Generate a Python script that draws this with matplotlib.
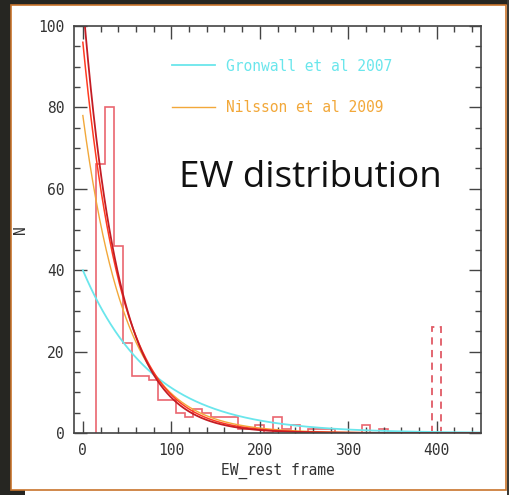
import matplotlib
matplotlib.use("Agg")
import matplotlib.pyplot as plt
import numpy as np
from matplotlib.patches import Rectangle
from matplotlib.ticker import MultipleLocator

# histogram of rest-frame EW, 10 A bins starting at 15
bin_edges = np.arange(15, 355, 10)
counts = [66, 80, 46, 22, 14, 14, 13, 8, 8, 5, 4, 6, 5, 4, 4, 4, 1, 1, 2, 0,
          4, 1, 2, 0, 1, 1, 1, 0, 0, 0, 2, 0, 1]
# objects piled up at the upper limit
limit_edges = [395, 405]
limit_counts = [26]

# exponential fits N0 * exp(-EW / w)
fit_gronwall = (40.0, 78.0)
fit_nilsson = (78.0, 48.0)
fit_ours = (106.0, 40.0)
fit_ours_alt = (96.0, 43.0)

fig = plt.figure(figsize=(5.10, 4.95), dpi=100)
fig.patch.set_facecolor("white")

# slide background strips
W, H = 510.0, 495.0
def strip(x0, y0, w, h, **kw):
    fig.patches.append(Rectangle((x0 / W, y0 / H), w / W, h / H,
                                 transform=fig.transFigure, **kw))

strip(0, 0, 11, 495, facecolor="#262622", edgecolor="none", zorder=-3)
strip(0, 490, 510, 5, facecolor="#262622", edgecolor="none", zorder=-3)
strip(0, 0, 25, 5, facecolor="#262622", edgecolor="none", zorder=-3)
strip(507, 0, 3, 495, facecolor="#3a3a36", edgecolor="none", zorder=-3)
strip(11, 5, 495, 485, facecolor="white", edgecolor="#c8742c", linewidth=1.2, zorder=-2)

ax = fig.add_axes([74 / W, 62 / H, 407 / W, 407 / H])
ax.set_facecolor("white")

x = np.linspace(0, 450, 600)
gron, = ax.plot(x, fit_gronwall[0] * np.exp(-x / fit_gronwall[1]),
                color="#6ae6ec", lw=1.3, label="Gronwall et al 2007")
nils, = ax.plot(x, fit_nilsson[0] * np.exp(-x / fit_nilsson[1]),
                color="#f2a83a", lw=1.0, label="Nilsson et al 2009")
ax.plot(x, fit_ours_alt[0] * np.exp(-x / fit_ours_alt[1]), color="#ff3a20", lw=1.1)
ax.plot(x, fit_ours[0] * np.exp(-x / fit_ours[1]), color="#c41c24", lw=1.3)

ax.stairs(counts, bin_edges, baseline=0, color="#ea6670", lw=1.2)
ax.stairs(limit_counts, limit_edges, baseline=0, color="#e05a66", lw=1.3,
          linestyle=(0, (4, 3)))

ax.set_xlim(-10, 450)
ax.set_ylim(0, 100)

tick_font = {"family": "DejaVu Sans Mono", "size": 10.5}
ax.xaxis.set_major_locator(MultipleLocator(100))
ax.xaxis.set_minor_locator(MultipleLocator(20))
ax.yaxis.set_major_locator(MultipleLocator(20))
ax.yaxis.set_minor_locator(MultipleLocator(5))
ax.tick_params(which="both", direction="in", top=True, right=True,
               colors="#444444", labelcolor="#333333", width=1.0)
ax.tick_params(which="major", length=9, pad=7, labelsize=10.5)
ax.tick_params(which="minor", length=4.5)
for lab in ax.get_xticklabels() + ax.get_yticklabels():
    lab.set_family("DejaVu Sans Mono")
for s in ax.spines.values():
    s.set_color("#444444")
    s.set_linewidth(1.2)

ax.set_xlabel("EW_rest frame", fontdict=tick_font, color="#333333", labelpad=4)
ax.set_ylabel("N", fontdict=tick_font, color="#333333")
ax.yaxis.set_label_coords(-0.113, 0.5)

leg = ax.legend(handles=[gron, nils], loc="upper left", bbox_to_anchor=(0.24, 0.92),
                frameon=False, borderpad=0, borderaxespad=0, handlelength=3.0,
                handletextpad=0.7, labelspacing=1.8,
                prop={"family": "DejaVu Sans Mono", "size": 10.5},
                labelcolor="linecolor")

ax.text(109, 60.5, "EW distribution", fontsize=26.5, family="Open Sans", color="#111111",
        va="baseline", ha="left")

fig.savefig("out.png", dpi=100, facecolor=fig.get_facecolor())
